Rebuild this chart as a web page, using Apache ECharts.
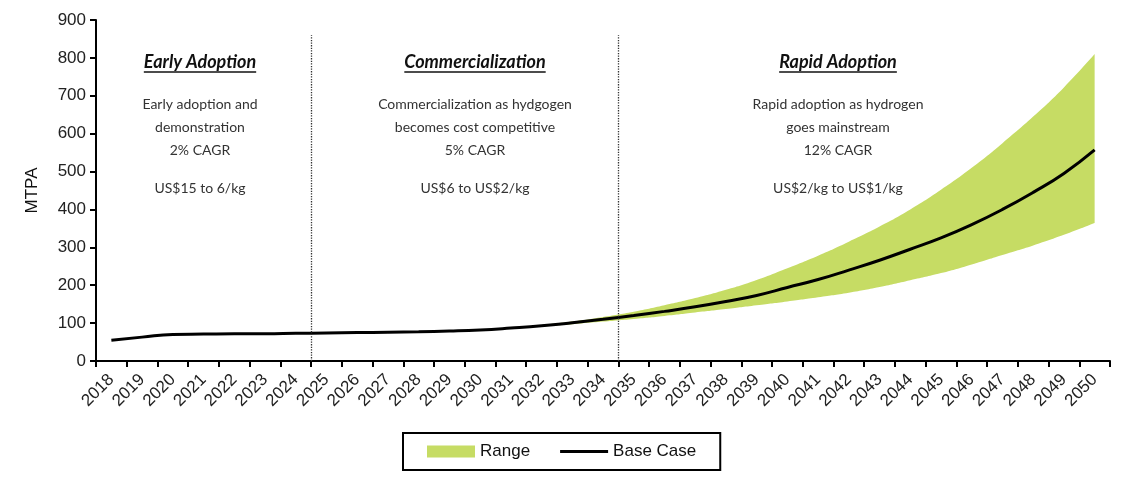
<!DOCTYPE html>
<html>
<head>
<meta charset="utf-8">
<script src="https://cdn.jsdelivr.net/npm/echarts@6/dist/echarts.min.js"></script>
<style>
html,body{margin:0;padding:0;background:#fff;}
#chart{width:1124px;height:477px;}
</style>
</head>
<body>
<div id="chart"></div>
<script>
const years = ['2018','2019','2020','2021','2022','2023','2024','2025','2026','2027','2028','2029','2030','2031','2032','2033','2034','2035','2036','2037','2038','2039','2040','2041','2042','2043','2044','2045','2046','2047','2048','2049','2050'];
const baseCase = [55,63,70,71,72,72,73,74,75,76,77,79,82,87,93,101,110,120,131,143,157,173,194,215,240,266,295,325,360,400,445,495,557];
const rangeLow = [55,63,70,71,72,72,73,74,75,76,77,79,82,86,91,97,104,111,119,128,137,147,157,168,180,195,213,232,255,280,305,333,364];
const rangeHigh = [55,63,70,71,72,72,73,74,75,76,77,79,82,88,95,104,116,130,147,166,188,214,245,278,315,355,400,452,510,575,645,722,810];
const phaseBoundaries = [2024.5, 2034.5];
const phaseTop = 860;
const yTicks = {min:0, max:900, interval:100};

const phaseTitles = ['Early Adoption','Commercialization','Rapid Adoption'];
const phaseDesc = [
  ['Early adoption and','demonstration','2% CAGR'],
  ['Commercialization as hydgogen','becomes cost competitive','5% CAGR'],
  ['Rapid adoption as hydrogen','goes mainstream','12% CAGR']
];
const phaseCost = ['US$15 to 6/kg','US$6 to US$2/kg','US$2/kg to US$1/kg'];
const phaseCenters = [200, 475, 838];

const rangeDiff = rangeHigh.map((v,i)=>v - rangeLow[i]);
const green = '#c6dc64';
const titleFont = 'italic bold 18px Lato';

const graphics = [];
phaseTitles.forEach((title,i)=>{
  const cx = phaseCenters[i];
  graphics.push({type:'text', x:cx, y:62, style:{text:title, font:titleFont, fill:'#111', align:'center', verticalAlign:'middle'}, z:10});
  const tmp = new echarts.graphic.Text({style:{text:title, font:titleFont}});
  const tw = tmp.getBoundingRect().width;
  graphics.push({type:'line', shape:{x1:cx - tw/2, y1:72, x2:cx + tw/2, y2:72}, style:{stroke:'#111', lineWidth:1.3}, z:10});
  graphics.push({type:'text', x:cx, y:93, style:{text:phaseDesc[i].join('\n'), font:'14px Lato', fill:'#333', align:'center', verticalAlign:'top', lineHeight:23}, z:10});
  graphics.push({type:'text', x:cx, y:188, style:{text:phaseCost[i], font:'14px Lato', fill:'#333', align:'center', verticalAlign:'middle'}, z:10});
});

const chart = echarts.init(document.getElementById('chart'));
chart.setOption({
  animation:false,
  grid:{left:96, right:14, top:20, bottom:116},
  legend:{
    data:[{name:'Range', icon:'rect'}, {name:'Base Case', icon:'path://M0,0 H48 V3 H0 Z'}],
    left:403, top:433, width:317,
    borderColor:'#000', borderWidth:2, padding:[10,24,10,24],
    itemWidth:48, itemHeight:12, itemGap:30,
    textStyle:{fontFamily:'Arial', fontSize:17, color:'#111'}
  },
  xAxis:[{
    type:'category', data:years, boundaryGap:true,
    axisLine:{lineStyle:{color:'#000', width:2}},
    axisTick:{show:true, alignWithLabel:false, length:6, lineStyle:{color:'#000', width:2}},
    axisLabel:{rotate:45, interval:0, fontFamily:'Arial', fontSize:17, color:'#222', margin:16}
  },{
    type:'value', min:2017.5, max:2050.5, show:false
  }],
  yAxis:{
    type:'value', min:yTicks.min, max:yTicks.max, interval:yTicks.interval,
    name:'MTPA', nameLocation:'middle', nameGap:55, nameRotate:90,
    nameTextStyle:{fontFamily:'Arial', fontSize:17, color:'#111'},
    splitLine:{show:false},
    axisLine:{show:true, lineStyle:{color:'#000', width:2}},
    axisTick:{show:true, length:6, lineStyle:{color:'#000', width:2}},
    axisLabel:{fontFamily:'Arial', fontSize:17, color:'#222', margin:10}
  },
  graphic:graphics,
  series:[
    {name:'low', type:'line', data:rangeLow, stack:'r', symbol:'none', smooth:true, lineStyle:{opacity:0}, areaStyle:{opacity:0}, silent:true, z:1},
    {name:'Range', type:'line', data:rangeDiff, stack:'r', symbol:'none', smooth:true, color:green, lineStyle:{opacity:0}, areaStyle:{color:green, opacity:1}, itemStyle:{color:green}, z:2},
    {name:'Base Case', type:'line', data:baseCase, symbol:'none', smooth:true, color:'#000', lineStyle:{color:'#000', width:3}, itemStyle:{color:'#000'}, z:3},
    {name:'phases', type:'line', xAxisIndex:1, data:[], symbol:'none',
      markLine:{silent:true, symbol:['none','none'], label:{show:false},
        lineStyle:{color:'#333', type:'dotted', width:1.3},
        data:phaseBoundaries.map(b=>[{coord:[b,0]},{coord:[b,phaseTop]}])}
    }
  ]
});
</script>
</body>
</html>
